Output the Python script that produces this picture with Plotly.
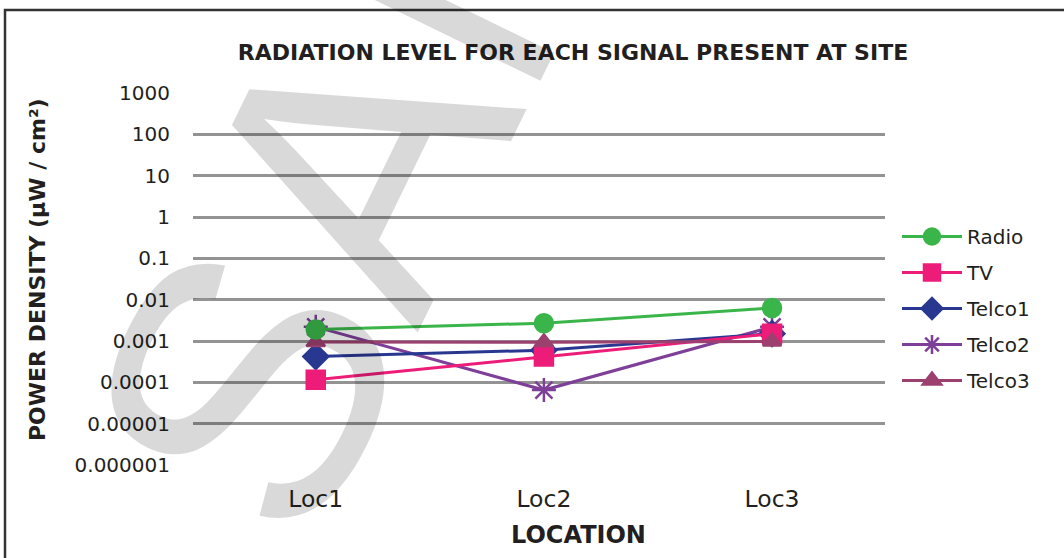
import plotly.graph_objects as go

# Measured power density per location (µW/cm²)
locations = ["Loc1", "Loc2", "Loc3"]
radio = [0.0019, 0.0027, 0.0063]
tv = [0.000115, 0.00042, 0.0015]
telco1 = [0.00042, 0.00060, 0.0015]
telco2 = [0.0022, 0.000065, 0.0022]
telco3 = [0.00094, 0.00093, 0.00097]

y_ticks = [1e-6, 1e-5, 1e-4, 1e-3, 1e-2, 1e-1, 1, 10, 100, 1000]
y_tick_text = ["0.000001", "0.00001", "0.0001", "0.001", "0.01", "0.1", "1", "10", "100", "1000"]

W, H = 1064, 558
PL, PR, PT, PB = 193, 885, 93, 465  # plot area in pixels


def px(x):
    return (x - PL) / (PR - PL)


def py(y):
    return (PB - y) / (PB - PT)


FONT = "DejaVu Sans"
INK = "#231F20"

series = [
    # name, values, color, symbol, size, legend rank
    ("Telco2", telco2, "#7E3F98", "asterisk-open", 20, 4),
    ("Telco1", telco1, "#283891", "diamond", 19, 3),
    ("TV", tv, "#EC1C78", "square", 18, 2),
    ("Telco3", telco3, "#9C416F", "triangle-up", 16, 5),
    ("Radio", radio, "#3AB54A", "circle", 18, 1),
]

fig = go.Figure()
for name, vals, color, symbol, size, rank in series:
    fig.add_trace(go.Scatter(
        x=locations, y=vals, name=name, mode="lines+markers",
        line=dict(color=color, width=3),
        marker=dict(symbol=symbol, size=size, color=color,
                    line=dict(color=color, width=2.5)),
        legendrank=rank, legendgroup=name,
    ))

fig.update_layout(
    width=W, height=H,
    margin=dict(l=PL, r=W - PR, t=PT, b=H - PB),
    paper_bgcolor="white", plot_bgcolor="white",
    font=dict(family=FONT, color=INK),
    title=dict(text="<b>RADIATION LEVEL FOR EACH SIGNAL PRESENT AT SITE</b>",
               xref="container", x=573 / W, xanchor="center",
               yref="container", y=1 - 52 / H, yanchor="middle",
               font=dict(size=22, color=INK)),
    showlegend=True,
    legend=dict(x=px(897), xanchor="left", y=py(217), yanchor="top",
                font=dict(size=20, color=INK),
                itemwidth=60, tracegroupgap=7, bgcolor="rgba(0,0,0,0)"),
    xaxis=dict(
        type="category", range=[-0.538, 2.495],
        showgrid=False, zeroline=False, showline=False, ticks="",
        tickfont=dict(size=23.5, color=INK), ticklabelstandoff=17,
    ),
    yaxis=dict(
        type="log", range=[-6, 3],
        tickvals=y_ticks, ticktext=y_tick_text,
        showgrid=True, gridcolor="#939393", gridwidth=2.5,
        zeroline=False, showline=False, ticks="",
        tickfont=dict(size=20, color=INK), ticklabelstandoff=22,
    ),
    shapes=[dict(type="rect", xref="paper", yref="paper",
                 x0=px(5), x1=px(1075), y0=py(570), y1=py(10),
                 line=dict(color="#333333", width=2.5), fillcolor="rgba(0,0,0,0)")],
    annotations=[
        dict(text="<b>LOCATION</b>", xref="paper", yref="paper",
             x=px(578), y=py(535), xanchor="center", yanchor="middle",
             showarrow=False, font=dict(size=24, color=INK)),
        dict(text="<b>POWER DENSITY (µW / cm²)</b>", xref="paper", yref="paper",
             x=px(37), y=py(270), xanchor="center", yanchor="middle",
             textangle=-90, showarrow=False, font=dict(size=22, color=INK)),
        dict(text="SAMPLE", xref="paper", yref="paper",
             x=px(524), y=py(-182), xanchor="center", yanchor="middle",
             textangle=-64, showarrow=False,
             font=dict(family="Liberation Sans", size=375,
                       color="rgba(0,0,0,0.15)")),
    ],
)

fig.write_html("out.html")
